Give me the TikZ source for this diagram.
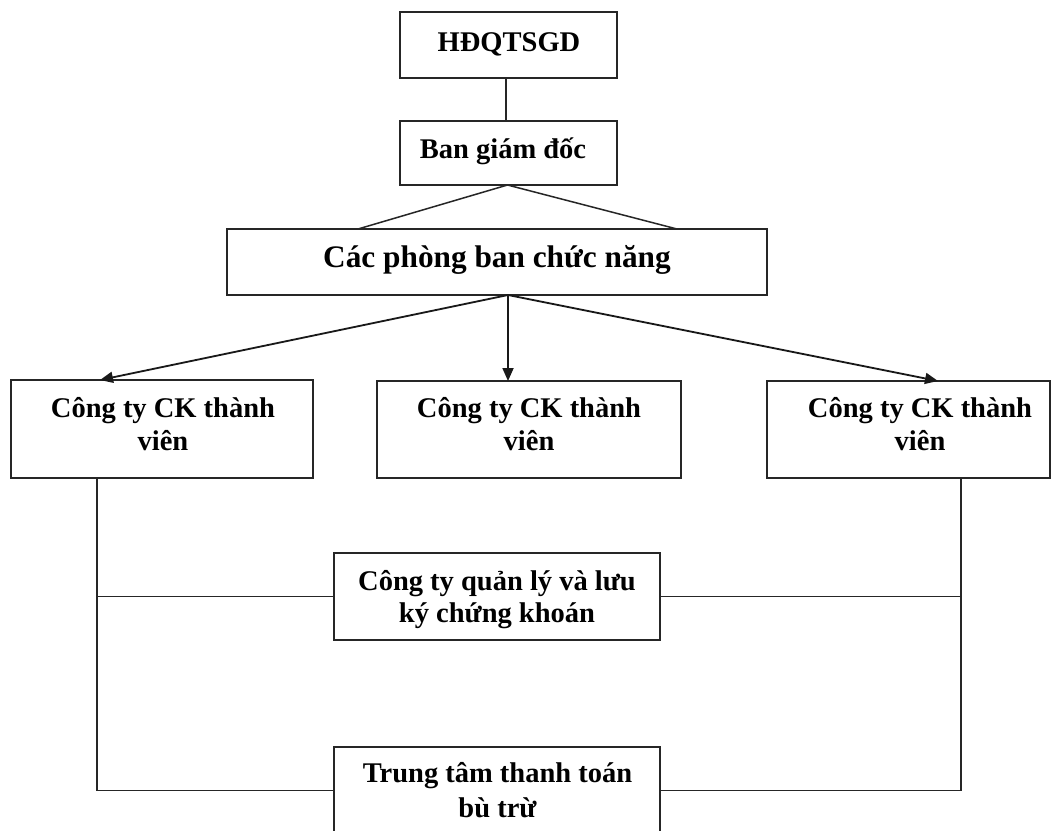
\documentclass[tikz,border=0pt]{standalone}
\usepackage{fontspec}
\setmainfont{Liberation Serif}
\usetikzlibrary{arrows.meta}
\begin{document}
\begin{tikzpicture}[x=1pt,y=-1pt,
  line width=1.5pt,
  ln/.style={draw=black!85, line width=1.5pt},
  box/.style={draw=black!85, line width=1.5pt, rectangle, inner sep=0pt, outer sep=0pt},
  txt/.style={font=\fontsize{28.5}{33}\selectfont\bfseries, inner sep=0pt, anchor=base},
  bigtxt/.style={font=\fontsize{31.3}{36}\selectfont\bfseries, inner sep=0pt, anchor=base},
  arr/.style={draw=black!90, line width=1.8pt, -{Triangle[length=13pt,width=11pt]}}]
\clip (0,0) rectangle (1064,830);
\fill[white] (0,0) rectangle (1064,830);

% boxes
\node[box, minimum width=217pt, minimum height=66pt] (hd) at (508.5,45) {};
\node[box, minimum width=217pt, minimum height=64pt] (bgd) at (508.5,153) {};
\node[box, minimum width=540pt, minimum height=66pt] (cp) at (497,262) {};
\node[box, minimum width=302pt, minimum height=98pt] (c1) at (162,429) {};
\node[box, minimum width=304pt, minimum height=97pt] (c2) at (529,429.5) {};
\node[box, minimum width=283pt, minimum height=97pt] (c3) at (908.5,429.5) {};
\node[box, minimum width=326pt, minimum height=87pt] (ql) at (497,596.5) {};
\node[box, minimum width=326pt, minimum height=87pt] (tt) at (497,790.5) {};

% texts
\node[txt] (thd) at (509,51) {HĐQTSGD};
\node[txt] (tbgd) at (503,158) {Ban giám đốc};
\node[bigtxt] (tcp) at (497,267) {Các phòng ban chức năng};
\node[txt] (tc1a) at (163,417) {Công ty CK thành};
\node[txt] (tc1b) at (163,450) {viên};
\node[txt] (tc2a) at (529,417) {Công ty CK thành};
\node[txt] (tc2b) at (529,450) {viên};
\node[txt] (tc3a) at (920,417) {Công ty CK thành};
\node[txt] (tc3b) at (920,450) {viên};
\node[txt] (tqla) at (497,590) {Công ty quản lý và lưu};
\node[txt] (tqlb) at (497,622) {ký chứng khoán};
\node[txt] (ttta) at (497.5,782) {Trung tâm thanh toán};
\node[txt] (tttb) at (497.5,817) {bù trừ};

% connectors top
\draw[ln] ([xshift=-2.5pt]hd.south) -- ([xshift=-2.5pt]bgd.north);
\draw[ln] ([xshift=-1pt]bgd.south) -- ([xshift=-139pt]cp.north);
\draw[ln] ([xshift=-1pt]bgd.south) -- ([xshift=180pt]cp.north);

% arrows
\coordinate (ap) at ([xshift=11pt]cp.south);
\draw[arr] (ap) -- ([xshift=-62pt]c1.north);
\draw[arr] (ap) -- ([xshift=-21pt]c2.north);
\draw[arr] (ap) -- ([xshift=29.5pt]c3.north);

% side lines
\coordinate (l1) at ([xshift=-65pt]c1.south);
\coordinate (r1) at ([xshift=52.5pt]c3.south);
\draw[ln] (l1) |- (tt.west);
\draw[ln] (ql.west) -- (l1 |- ql.west);
\draw[ln] (r1) |- (tt.east);
\draw[ln] (ql.east) -- (r1 |- ql.east);
\end{tikzpicture}
\end{document}
